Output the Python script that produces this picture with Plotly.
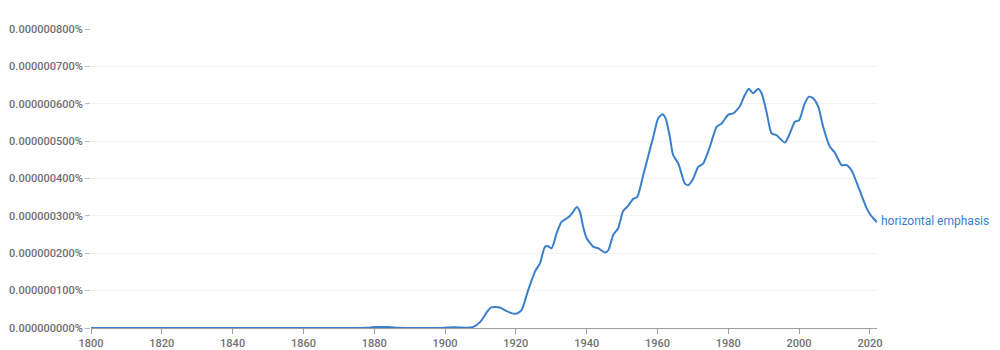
import plotly.graph_objects as go

years = [1800, 1820, 1840, 1860, 1875, 1878, 1880, 1884, 1887, 1890, 1898, 1901, 1904, 1906,
         1908, 1910, 1912, 1913, 1915.5, 1917.4, 1920, 1921.6, 1923.5, 1925.4, 1926.8, 1928.2,
         1929.1, 1930.1, 1931.5, 1932.9, 1934.8, 1936.2, 1937.2, 1938.1, 1939, 1940, 1941.9,
         1943.3, 1945.2, 1946.1, 1947.5, 1948.9, 1950.3, 1951.7, 1953.1, 1954.3, 1956, 1958.8,
         1960.2, 1961.4, 1962.3, 1963.5, 1964.4, 1965.9, 1967.7, 1968.7, 1970.1, 1971.5, 1972.9,
         1974.8, 1976.7, 1978.1, 1980, 1981.4, 1983.3, 1984.4, 1985.8, 1987, 1988.4, 1989.4,
         1990.8, 1992.2, 1993.6, 1996, 1997.4, 1998.8, 2000, 2001.6, 2002.8, 2004, 2005.4,
         2006.8, 2008.7, 2010.1, 2012, 2013.4, 2014.8, 2016.7, 2019.1, 2020, 2021, 2022]
values = [0, 0, 0, 0, 0, 0.5, 2.5, 2.5, 0.5, 0, 0, 1.5, 1.5, 0.5,
          3, 17, 45, 55, 55, 45, 38, 48, 102, 151, 173, 217,
          219, 213, 253, 284, 296, 311, 324, 311, 271, 240, 217,
          213, 202, 208, 249, 267, 313, 327, 345, 351, 410, 511,
          561, 572, 561, 511, 463, 440, 387, 382, 400, 431, 440,
          485, 538, 547, 571, 574, 594, 618, 640, 628, 640, 628,
          578, 521, 516, 496, 521, 552, 556, 601, 619, 614, 592,
          538, 485, 469, 436, 436, 422, 378, 320, 305, 293, 283]
values_pct = [v * 1e-9 for v in values]

series_name = "horizontal emphasis"
tick_years = [1800, 1820, 1840, 1860, 1880, 1900, 1920, 1940, 1960, 1980, 2000, 2020]
y_ticks = [i * 1e-7 for i in range(9)]
y_tick_labels = ["0.000000%d00%%" % i if i else "0.000000000%" for i in range(9)]

color = "#3a7fcc"
label_font = dict(family="Roboto, Arial, sans-serif", size=11, color="#6f6f6f", weight=500)

fig = go.Figure()
fig.add_trace(go.Scatter(x=years, y=values_pct, mode="lines",
                         line=dict(color=color, width=2, shape="spline", smoothing=0.6),
                         hoverinfo="skip", showlegend=False))
fig.add_annotation(x=years[-1], y=values_pct[-1], text=series_name, showarrow=False,
                   xanchor="left", yanchor="middle", xshift=2, yshift=1,
                   font=dict(family="Roboto, Arial, sans-serif", size=12, color=color))

fig.update_layout(
    width=1000, height=350,
    margin=dict(l=91, r=123, t=29, b=22, autoexpand=False),
    paper_bgcolor="white", plot_bgcolor="white",
    font=dict(family="Roboto, Arial, sans-serif", size=11, color="#6f6f6f"),
)
fig.update_xaxes(range=[1800, 2022], tickvals=tick_years, ticks="outside", ticklen=5,
                 tickcolor="#9e9e9e", showline=True, linecolor="#9e9e9e", linewidth=1,
                 showgrid=False, zeroline=False, automargin=False, tickfont=label_font)
fig.update_yaxes(range=[0, 8.0e-7], tickvals=y_ticks, ticktext=y_tick_labels,
                 ticks="outside", ticklen=5, tickcolor="#bdbdbd", showgrid=True,
                 gridcolor="#f3f3f3", zeroline=False, showline=False, automargin=False,
                 tickfont=label_font)

fig.write_html("out.html")
